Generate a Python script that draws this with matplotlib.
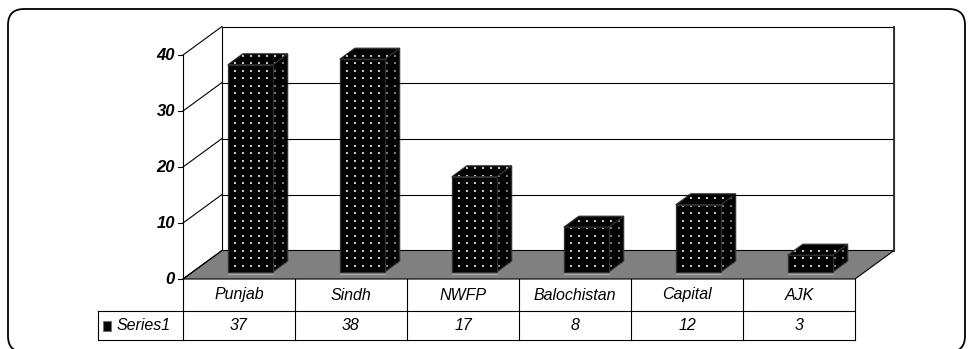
import matplotlib
matplotlib.use('Agg')
import matplotlib.pyplot as plt
import numpy as np
from matplotlib.patches import Polygon, FancyBboxPatch, Rectangle

cats = ['Punjab', 'Sindh', 'NWFP', 'Balochistan', 'Capital', 'AJK']
vals = [37, 38, 17, 8, 12, 3]
yticks = [0, 10, 20, 30, 40]
series_name = 'Series1'

# oblique projection, pixel units
X0, Y0 = 183, 279          # front-left corner of the floor
SLOT = 112                 # width of one category
UNIT = 5.6                 # pixels per value unit
DX, DY = 39, -28.5         # depth vector
BAR_X = (0.315, 0.715)     # bar extent inside its slot
BAR_D = (0.245, 0.63)      # bar extent in depth
ROWS = [279, 311, 340]     # data table row edges
LBL_X = 98                 # left edge of the legend column
DOT_DX, DOT_DY = 8, 7.5    # spacing of the dot fill pattern

FONT = 'Liberation Sans'

def proj(x, v, d):
    return (X0 + x * SLOT + d * DX, Y0 - v * UNIT + d * DY)

fig = plt.figure(figsize=(9.68, 3.49), dpi=100)
ax = fig.add_axes([0, 0, 1, 1])
ax.set_xlim(0, 968); ax.set_ylim(349, 0); ax.axis('off')

n = len(cats); vmax = yticks[-1]
lw = 0.8

# outer frame (bottom runs off the canvas)
ax.add_patch(FancyBboxPatch((8, 9), 957, 343, boxstyle='round,pad=0,rounding_size=16',
                            fc='white', ec='black', lw=1.3))

# back wall + gridlines
wall = [proj(0, 0, 1), proj(n, 0, 1), proj(n, vmax, 1), proj(0, vmax, 1)]
ax.add_patch(Polygon(wall, closed=True, fc='white', ec='black', lw=lw))
for t in yticks[1:-1]:
    a, b = proj(0, t, 1), proj(n, t, 1)
    ax.plot([a[0], b[0]], [a[1], b[1]], color='black', lw=lw)
# side wall diagonals
for t in yticks:
    a, b = proj(0, t, 0), proj(0, t, 1)
    ax.plot([a[0], b[0]], [a[1], b[1]], color='black', lw=lw)
a, b = proj(n, 0, 1), proj(n, vmax, 1)
ax.plot([a[0], b[0]], [a[1], b[1]], color='#333333', lw=1.4)

# floor
floor = [proj(0, 0, 0), proj(n, 0, 0), proj(n, 0, 1), proj(0, 0, 1)]
ax.add_patch(Polygon(floor, closed=True, fc='#808080', ec='black', lw=lw))

# dotted 3d bars
def face(pts, dot):
    poly = Polygon(pts, closed=True, fc='black', ec='none')
    ax.add_patch(poly)
    xs, ys = zip(*pts)
    gx = np.arange(np.floor(min(xs) / DOT_DX) * DOT_DX + 3, max(xs), DOT_DX)
    gy = np.arange(np.floor(min(ys) / DOT_DY) * DOT_DY + 3, max(ys), DOT_DY)
    mx, my = np.meshgrid(gx, gy)
    sc = ax.scatter(mx.ravel(), my.ravel(), s=0.9, marker='s', c=dot, linewidths=0)
    sc.set_clip_path(poly)
    ax.add_patch(Polygon(pts, closed=True, fc='none', ec='#303030', lw=0.9))

for i, v in enumerate(vals):
    x0, x1 = i + BAR_X[0], i + BAR_X[1]
    d0, d1 = BAR_D
    face([proj(x1, 0, d0), proj(x1, 0, d1), proj(x1, v, d1), proj(x1, v, d0)], '#7a7a7a')
    face([proj(x0, v, d0), proj(x1, v, d0), proj(x1, v, d1), proj(x0, v, d1)], '#c8c8c8')
    face([proj(x0, 0, d0), proj(x1, 0, d0), proj(x1, v, d0), proj(x0, v, d0)], '#c8c8c8')
    # light rim along the bottom edge
    a, b = proj(x0, 0, d0), proj(x1, 0, d0)
    ax.plot([a[0], b[0]], [a[1] + 1.5, b[1] + 1.5], color='#b0b0b0', lw=0.7)

# value axis
a, b = proj(0, 0, 0), proj(0, vmax, 0)
ax.plot([a[0], b[0]], [a[1], b[1]], color='black', lw=lw)
for t in yticks:
    px, py = proj(0, t, 0)
    ax.plot([px - 5, px], [py, py], color='black', lw=lw)
    ax.text(px - 8, py, str(t), ha='right', va='center', fontsize=12,
            fontweight='bold', fontstyle='italic', family=FONT)

# data table
right = proj(n, 0, 0)[0]
ax.plot([LBL_X, right], [ROWS[1], ROWS[1]], color='black', lw=lw)
ax.plot([LBL_X, right], [ROWS[2], ROWS[2]], color='black', lw=lw)
ax.plot([LBL_X, LBL_X], [ROWS[1], ROWS[2]], color='black', lw=lw)
for k in range(n + 1):
    xx = X0 + k * SLOT
    ax.plot([xx, xx], [ROWS[0], ROWS[2]], color='black', lw=lw)
for i, (c, v) in enumerate(zip(cats, vals)):
    cx = X0 + (i + 0.5) * SLOT
    ax.text(cx, (ROWS[0] + ROWS[1]) / 2, c, ha='center', va='center', fontsize=11.5,
            fontstyle='italic', family=FONT)
    ax.text(cx, (ROWS[1] + ROWS[2]) / 2, str(v), ha='center', va='center', fontsize=11.5,
            fontstyle='italic', family=FONT)

# legend key
ky = (ROWS[1] + ROWS[2]) / 2
ax.add_patch(Rectangle((103, ky - 5), 8, 10, fc='black', ec='#707070', lw=0.8))
ax.text(117, ky, series_name, ha='left', va='center', fontsize=11.5,
        fontstyle='italic', family=FONT)

fig.savefig('out.png', dpi=100)
